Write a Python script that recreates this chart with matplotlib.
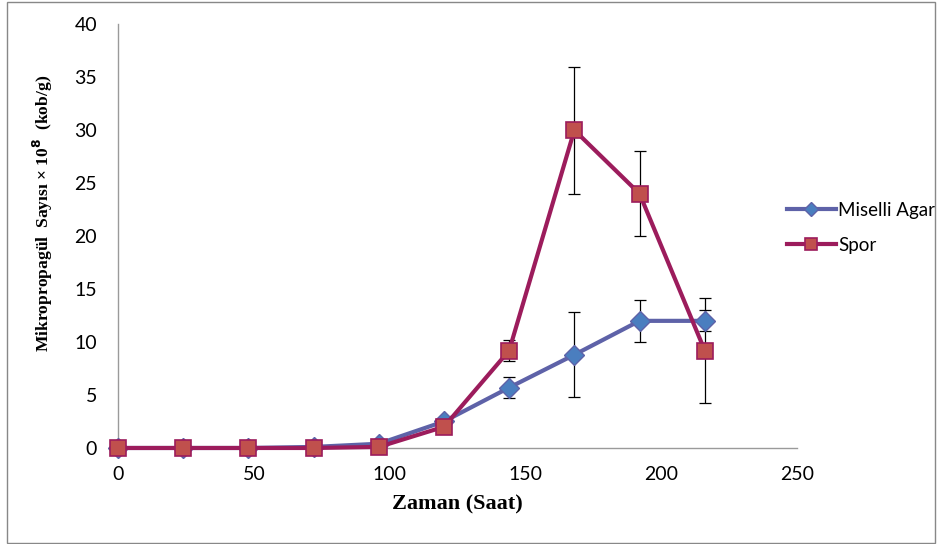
import numpy as np
import matplotlib.pyplot as plt
from matplotlib.patches import Rectangle

# sampling times (hours)
saat = [0, 24, 48, 72, 96, 120, 144, 168, 192, 216]

miselli = [0, 0, 0, 0.1, 0.4, 2.5, 5.7, 8.8, 12.0, 12.0]
miselli_err = [0, 0, 0, 0, 0, 0.3, 1.0, 4.0, 2.0, 1.0]

spor = [0, 0, 0, 0, 0.1, 2.0, 9.2, 30.0, 24.0, 9.2]
spor_err = [0, 0, 0, 0, 0, 0, 1.0, 6.0, 4.0, 5.0]

tick_font = 'Lato'

fig = plt.figure(figsize=(9.4, 5.44), dpi=100)
ax = fig.add_axes([0.1255, 0.1765, 0.7225, 0.779])

fig.patches.append(Rectangle((0.007, 0.002), 0.988, 0.995, transform=fig.transFigure,
                             fill=False, edgecolor='#888888', linewidth=1))

ax.errorbar(saat, miselli, yerr=miselli_err, fmt='none',
            ecolor='black', elinewidth=0.9, capsize=4, capthick=0.9, zorder=2)
ax.errorbar(saat, spor, yerr=spor_err, fmt='none',
            ecolor='black', elinewidth=0.9, capsize=4, capthick=0.9, zorder=2)

ax.plot(saat, miselli, color='#5E62A8', lw=3, marker='D', markersize=10,
        markerfacecolor='#4A7EBF', markeredgecolor='#5E62A8', markeredgewidth=1,
        label='Miselli Agar', zorder=3, clip_on=False)
ax.plot(saat, spor, color='#9C1C5C', lw=3, marker='s', markersize=12,
        markerfacecolor='#C0504D', markeredgecolor='#9C1C5C', markeredgewidth=1.2,
        label='Spor', zorder=4, clip_on=False)

ax.set_xlim(0, 250)
ax.set_ylim(0, 40)
ax.set_xticks(np.arange(0, 251, 50))
ax.set_yticks(np.arange(0, 41, 5))
ax.tick_params(length=0, labelsize=14)
ax.tick_params(axis='y', pad=15)
ax.tick_params(axis='x', pad=13)
for lab in ax.get_xticklabels() + ax.get_yticklabels():
    lab.set_fontfamily(tick_font)

for s in ['top', 'right']:
    ax.spines[s].set_visible(False)
for s in ['left', 'bottom']:
    ax.spines[s].set_color('#9a9a9a')
    ax.spines[s].set_linewidth(1)
    ax.spines[s].set_zorder(1)

ax.set_xlabel('Zaman (Saat)', fontfamily='Liberation Serif', fontweight='bold',
              fontsize=16)
ax.xaxis.set_label_coords(0.5, -0.11)
ax.set_ylabel(r'Mikropropagül  Sayısı × 10$^{\mathbf{8}}$  (kob/g)',
              fontfamily='Liberation Serif', fontweight='bold', fontsize=12.6)
ax.yaxis.set_label_coords(-0.093, 0.554)

leg = ax.legend(loc='center left', bbox_to_anchor=(0.985, 0.52), frameon=False,
                prop={'family': tick_font, 'size': 13.5}, handlelength=2.6,
                handletextpad=0.15, labelspacing=0.95, borderpad=0, borderaxespad=0,
                markerscale=0.75)

fig.savefig('out.png', dpi=100)
